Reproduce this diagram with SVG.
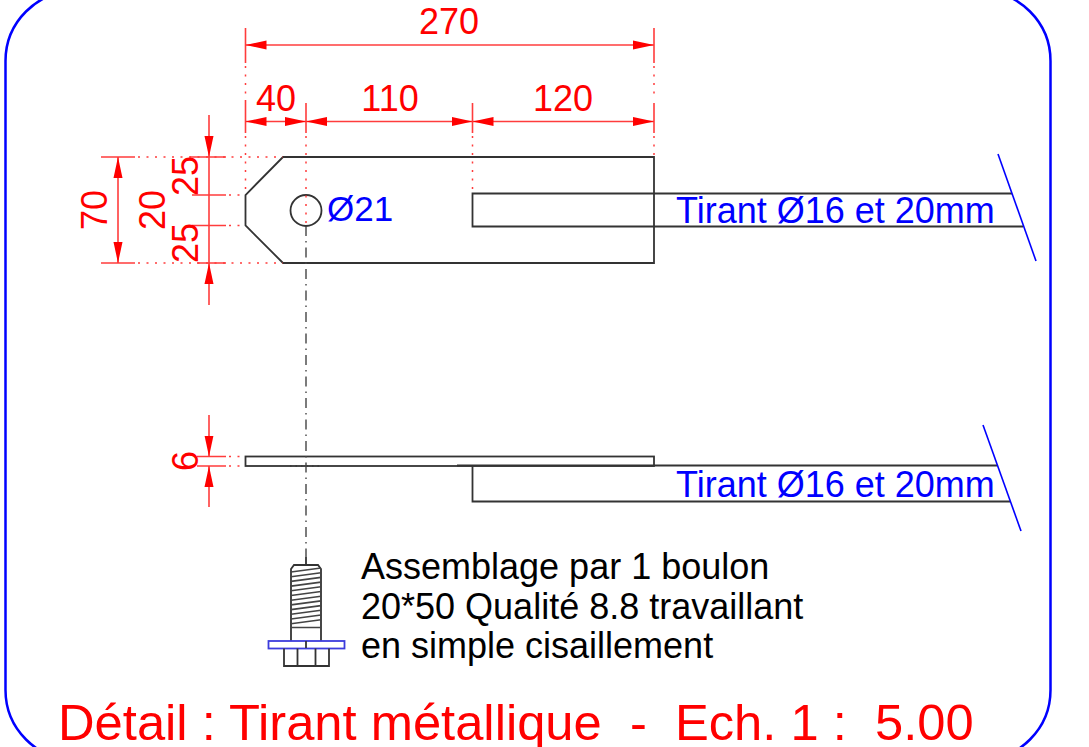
<svg xmlns="http://www.w3.org/2000/svg" width="1089" height="747" viewBox="0 0 1089 747">
<defs>
<style>
text{font-family:"Liberation Sans",Arial,sans-serif}
.dim{fill:#f00;font-size:36px}
.blue{fill:#00f;font-size:36px}
.blk{fill:#000;font-size:36px}
.obj{fill:none;stroke:#333;stroke-width:1.8}
.d{fill:none;stroke:#ff3c3c;stroke-width:1.6}
.e{fill:none;stroke:#ff3c3c;stroke-width:1.5;stroke-dasharray:2 6.500}
.c{fill:none;stroke:#444;stroke-width:1.4;stroke-dasharray:10 5 1.500 5}
.b{fill:none;stroke:#00f;stroke-width:1.600}
.t{fill:none;stroke:#444;stroke-width:1.6}
.hid{fill:none;stroke:#333;stroke-width:1.2;stroke-dasharray:1.5 4}
.a{fill:#f00;stroke:none}
</style>
<marker id="ar" markerUnits="userSpaceOnUse" markerWidth="22" markerHeight="10" refX="21" refY="5" orient="auto-start-reverse"><path class="a" d="M0 0.500L21 5L0 9.500Z"/></marker>
</defs>
<rect id="frame" x="5.500" y="-9" width="1045" height="769" rx="70" ry="70" fill="#fff" stroke="#00f" stroke-width="2.500"/>
<g id="plate-top">
<path class="obj" d="M283 157H654V263H283L245.500 225.500V195Z"/>
<circle class="obj" cx="306" cy="210.500" r="15.500"/>
<path class="obj" d="M1012 193.500H472.500V226.500H1023"/>
<path class="b" d="M998 154L1036 261"/>
</g>
<g id="plate-side">
<rect class="obj" x="245.500" y="456.500" width="408.500" height="9.500"/>
<path class="obj" d="M457 465.500H997M472.500 465.500V501.500H1010"/>
<path class="b" d="M983 425L1021 531"/>
<path class="hid" d="M290 456.500H323M290 466H323"/>
</g>
<g id="bolt">
<path class="obj" d="M291 641V569L294 565H318L321 569V641"/>
<path class="t" d="M291 572L321 568M291 576.700L321 572.700M291 581.400L321 577.400M291 586.100L321 582.100M291 590.800L321 586.800M291 595.500L321 591.500M291 600.200L321 596.200M291 604.900L321 600.900M291 609.600L321 605.600M291 614.300L321 610.300M291 619L321 615M291 623.700L321 619.700M291 627.500H321"/>
<rect x="268.500" y="641" width="76" height="7.500" fill="#fff" stroke="#3c3cdc" stroke-width="1.800"/>
<path class="obj" d="M284 648.500V666H329V648.500M297.500 648.500V666M315.500 648.500V666"/>
<path class="obj" d="M306 557V565M306 641V648"/>
</g>
<g id="connectors">
<path class="c" d="M306 226V557"/>
<path class="e" d="M245.500 136V195M306 136V226M472.500 136V194M654 136V157"/>
<path class="e" d="M245.500 66V100M654 66V100"/>
<path class="d" d="M245.500 28V63M654 28V63M245.500 100V133M306 103V133M472.500 103V133M654 103V133"/>
<path class="d" marker-start="url(#ar)" marker-end="url(#ar)" d="M245.500 45H654"/>
<path class="d" marker-start="url(#ar)" marker-end="url(#ar)" d="M245.500 121.500H306"/>
<path class="d" marker-start="url(#ar)" marker-end="url(#ar)" d="M306 121.500H472.500"/>
<path class="d" marker-start="url(#ar)" marker-end="url(#ar)" d="M472.500 121.500H654"/>
<path class="d" d="M101 157H135M101 263H135M190 157H226M197 263H226M192 195H226M192 225.500H226"/>
<path class="e" d="M138 157H283M138 263H283M229 195H245M229 225.500H245"/>
<path class="d" marker-start="url(#ar)" marker-end="url(#ar)" d="M118 157V263"/>
<path class="d" marker-end="url(#ar)" d="M209 115V157"/>
<path class="d" marker-end="url(#ar)" d="M209 305V263"/>
<path class="d" d="M209 157V263"/>
<path class="d" d="M197 456.500H226M197 466H226"/>
<path class="e" d="M229 456.500H245M229 466H245"/>
<path class="d" marker-end="url(#ar)" d="M209 415V456.500"/>
<path class="d" marker-end="url(#ar)" d="M209 507V466"/>
</g>
<g id="labels">
<text class="dim" x="449" y="34" text-anchor="middle">270</text>
<text class="dim" x="276" y="111" text-anchor="middle">40</text>
<text class="dim" x="390" y="111" text-anchor="middle">110</text>
<text class="dim" x="563" y="111" text-anchor="middle">120</text>
<text class="dim" transform="translate(107 210) rotate(-90)" text-anchor="middle">70</text>
<text class="dim" transform="translate(165 210) rotate(-90)" text-anchor="middle">20</text>
<text class="dim" transform="translate(198 176) rotate(-90)" text-anchor="middle">25</text>
<text class="dim" transform="translate(198 243) rotate(-90)" text-anchor="middle">25</text>
<text class="dim" transform="translate(198 461) rotate(-90)" text-anchor="middle">6</text>
<text class="blue" x="327" y="221" style="font-size:35px">Ø21</text>
<text class="blue" x="676" y="223">Tirant Ø16 et 20mm</text>
<text class="blue" x="676" y="497">Tirant Ø16 et 20mm</text>
<text class="blk" x="361" y="579">Assemblage par 1 boulon</text>
<text class="blk" x="361" y="618.500">20*50 Qualité 8.8 travaillant</text>
<text class="blk" x="361" y="658">en simple cisaillement</text>
<text x="58" y="740" style="fill:#f00;font-size:50.700px;white-space:pre">Détail : Tirant métallique  -  Ech. 1 :  5.00</text>
</g>
</svg>
